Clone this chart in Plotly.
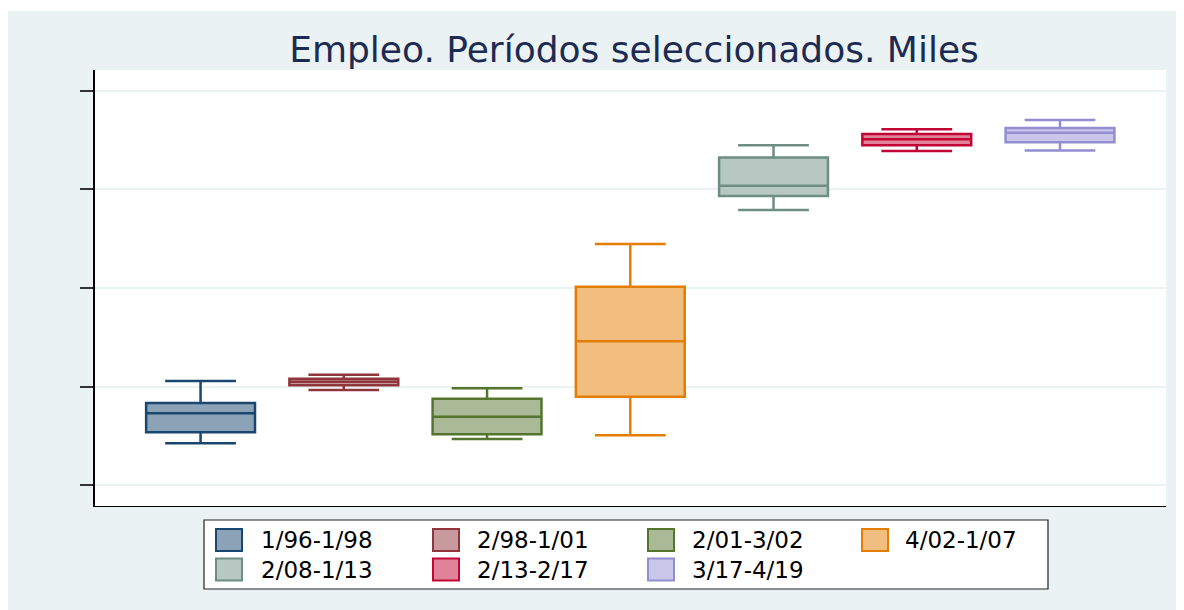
import plotly.graph_objects as go

# ---- data (miles; axis has no labels) ----
periods = ["1/96-1/98", "2/98-1/01", "2/01-3/02", "4/02-1/07",
           "2/08-1/13", "2/13-2/17", "3/17-4/19"]
lower_fence = [12847, 13929, 12934, 13009, 17583, 18780, 18794]
q1_vals     = [13070, 14024, 13029, 13792, 17867, 18896, 18957]
median_vals = [13455, 14097, 13386, 14917, 18076, 19018, 19152]
q3_vals     = [13665, 14158, 13752, 16025, 18652, 19125, 19247]
upper_fence = [14111, 14239, 13963, 16893, 18896, 19221, 19410]
y_ticks = [12000, 14000, 16000, 18000, 20000]

line_colors = ["#1A476F", "#90353B", "#55752F", "#E37E00",
               "#6E8E84", "#C10534", "#938DD2"]
fill_colors = ["#8CA3B7", "#C89A9D", "#AABA97", "#F1BE80",
               "#B7C7C2", "#E0829A", "#C9C6E9"]

BG = "#EAF2F3"
OFF = 8                     # page body margin of the html
W, H = 1184 - OFF, 610 - OFF
L, R, T = 95 - OFF, 18, 70 - OFF
B = H - T - 436
PW, PH = W - L - R, H - T - B

def px(x):  # screen pixel x -> paper x
    return (x - OFF - L) / PW

def py(y):  # screen pixel y -> paper y
    return (H - B - (y - OFF)) / PH

fig = go.Figure()
for i, name in enumerate(periods):
    fig.add_trace(go.Box(
        x=[i], name=name,
        q1=[q1_vals[i]], median=[median_vals[i]], q3=[q3_vals[i]],
        lowerfence=[lower_fence[i]], upperfence=[upper_fence[i]],
        width=0.76, whiskerwidth=0.65,
        fillcolor=fill_colors[i],
        line=dict(color=line_colors[i], width=2.5),
        showlegend=False, boxpoints=False,
    ))

shapes = [
    dict(type="rect", xref="paper", yref="paper", layer="below",
         x0=px(7), x1=px(1190), y0=py(615), y1=py(11),
         fillcolor=BG, line=dict(width=0)),
    dict(type="rect", xref="paper", yref="paper", layer="below",
         x0=0, x1=1, y0=0, y1=1, fillcolor="white", line=dict(width=0)),
    # legend frame
    dict(type="rect", xref="paper", yref="paper",
         x0=px(204), x1=px(1048), y0=py(589), y1=py(520),
         fillcolor="white", line=dict(color="#222222", width=1.2)),
]
annotations = []
col_sym = [216, 433, 648, 862]
col_txt = [261, 477, 692, 905]
row_y = [540, 569.5]
for i, name in enumerate(periods):
    r, c = divmod(i, 4)
    cy = row_y[r]
    shapes.append(dict(type="rect", xref="paper", yref="paper",
                       x0=px(col_sym[c]), x1=px(col_sym[c] + 26),
                       y0=py(cy + 11), y1=py(cy - 11),
                       fillcolor=fill_colors[i],
                       line=dict(color=line_colors[i], width=2)))
    annotations.append(dict(xref="paper", yref="paper",
                            x=px(col_txt[c] - 2), y=py(cy),
                            xanchor="left", yanchor="middle",
                            text=name, showarrow=False,
                            font=dict(family="DejaVu Sans", size=23, color="black")))

fig.update_layout(
    width=W, height=H,
    margin=dict(l=L, r=R, t=T, b=B, pad=0),
    paper_bgcolor="white", plot_bgcolor="white",
    title=dict(text="Empleo. Períodos seleccionados. Miles",
               x=px(634), xref="paper", xanchor="center",
               y=1 - (49 - OFF) / H, yref="container", yanchor="middle",
               font=dict(family="DejaVu Sans", size=36, color="#1C2B53")),
    boxmode="overlay",
    showlegend=False,
    shapes=shapes,
    annotations=annotations,
    xaxis=dict(range=[-0.737, 6.74], showticklabels=False, ticks="",
               showgrid=False, zeroline=False,
               showline=True, linecolor="black", linewidth=1.2),
    yaxis=dict(range=[11574, 20426], tickvals=y_ticks, showticklabels=False,
               ticks="outside", ticklen=13, tickwidth=1.5, tickcolor="#333333",
               showgrid=True, gridcolor=BG, gridwidth=1.5, zeroline=False,
               showline=True, linecolor="black", linewidth=1.5),
)

fig.write_html("out.html")
